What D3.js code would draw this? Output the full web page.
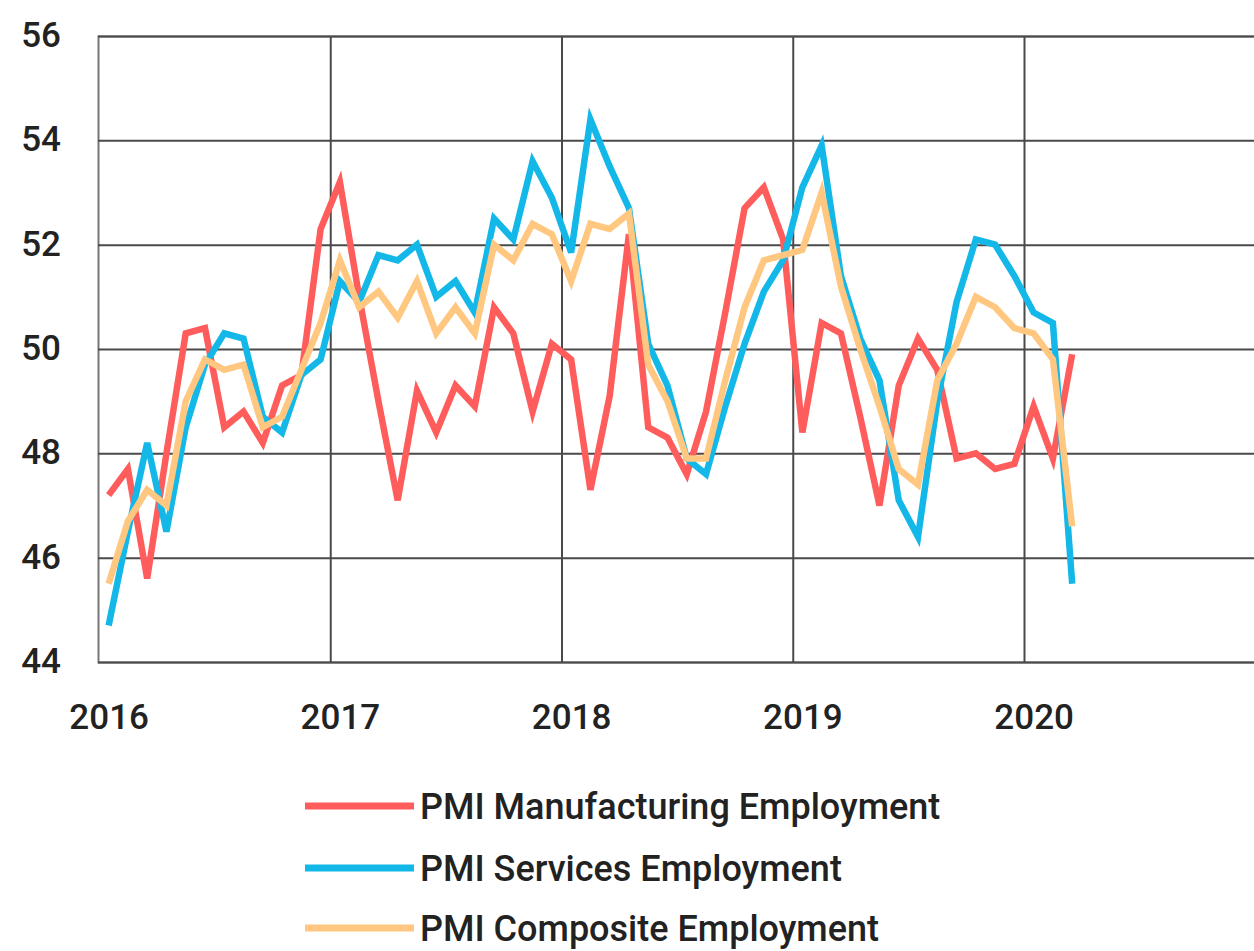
<!DOCTYPE html>
<html><head><meta charset="utf-8">
<script src="https://cdn.jsdelivr.net/npm/d3@7"></script>
<style>html,body{margin:0;padding:0;background:#fff;} svg{display:block;}</style>
</head><body><svg id="chart" width="1254" height="951"></svg>
<script>
// ---- data ----
const startYear = 2016;
const yearLabels = [2016, 2017, 2018, 2019, 2020];
const yearGrid = [2017, 2018, 2019, 2020];
const yTicks = [44, 46, 48, 50, 52, 54, 56];
const seriesNames = ["PMI Manufacturing Employment", "PMI Services Employment", "PMI Composite Employment"];
const manufacturing = [
  47.2, 47.7, 45.6, 48.0, 50.3, 50.4, 48.5, 48.8, 48.2, 49.3, 49.5, 52.3,
  53.2, 51.0, 49.0, 47.1, 49.2, 48.4, 49.3, 48.9, 50.8, 50.3, 48.8, 50.1,
  49.8, 47.3, 49.1, 52.2, 48.5, 48.3, 47.6, 48.8, 50.7, 52.7, 53.1, 52.1,
  48.4, 50.5, 50.3, 48.7, 47.0, 49.3, 50.2, 49.6, 47.9, 48.0, 47.7, 47.8,
  48.9, 47.9, 49.9
];
const services = [
  44.7, 46.5, 48.2, 46.5, 48.5, 49.7, 50.3, 50.2, 48.7, 48.4, 49.5, 49.8,
  51.3, 50.9, 51.8, 51.7, 52.0, 51.0, 51.3, 50.7, 52.5, 52.1, 53.6, 52.9,
  51.85, 54.4, 53.5, 52.7, 50.1, 49.3, 47.9, 47.6, 48.9, 50.1, 51.1, 51.7,
  53.1, 53.9, 51.4, 50.2, 49.4, 47.1, 46.4, 49.0, 50.9, 52.1, 52.0, 51.4,
  50.7, 50.5, 45.5
];
const composite = [
  45.5, 46.7, 47.3, 47.0, 49.0, 49.8, 49.6, 49.7, 48.5, 48.7, 49.6, 50.5,
  51.7, 50.8, 51.1, 50.6, 51.3, 50.3, 50.8, 50.3, 52.0, 51.7, 52.4, 52.2,
  51.3, 52.4, 52.3, 52.6, 49.7, 49.0, 47.9, 47.9, 49.4, 50.8, 51.7, 51.8,
  51.9, 53.0, 51.2, 50.0, 48.9, 47.7, 47.4, 49.4, 50.1, 51.0, 50.8, 50.4,
  50.3, 49.8, 46.6
];
const colors = ["#FF5C5C", "#14B8E8", "#FFC77F"];

// ---- layout ----
const svg = d3.select("#chart");
const mLeft = 98, mRight = 1254, mTop = 36, mBottom = 662;
const x = d3.scaleLinear().domain([2016, 2021]).range([99, 1255.25]);
const y = d3.scaleLinear().domain([44, 56]).range([mBottom, mTop]);
const font = "Roboto, 'Open Sans', sans-serif";
const gridColor = "#4a4a4a";

// horizontal grid + y labels
const yAxis = svg.append("g").attr("transform", `translate(${mLeft},0)`)
  .call(d3.axisLeft(y).tickValues(yTicks).tickSize(-(mRight - mLeft)).tickPadding(37).tickFormat(d3.format("d")));
yAxis.select(".domain").attr("stroke", "#777").attr("stroke-width", 2);
yAxis.selectAll(".tick line").attr("stroke", gridColor).attr("stroke-width", 2);
yAxis.selectAll(".tick text").attr("font-family", font).attr("font-size", 35).attr("font-weight", 500).attr("fill", "#222").attr("dy", "0.3em");

// vertical grid
const xGrid = svg.append("g").attr("transform", `translate(0,${mBottom})`)
  .call(d3.axisBottom(x).tickValues(yearGrid).tickSize(-(mBottom - mTop)).tickFormat(""));
xGrid.select(".domain").remove();
xGrid.selectAll(".tick line").attr("stroke", gridColor).attr("stroke-width", 2);

// x labels at January of each year
const xLab = svg.append("g").attr("transform", `translate(0,${mBottom})`)
  .call(d3.axisBottom(x).tickValues(yearLabels.map(v => v + 0.5 / 12)).tickSize(0).tickPadding(42).tickFormat(d => String(Math.floor(d))));
xLab.select(".domain").remove();
xLab.selectAll(".tick text").attr("font-family", font).attr("font-size", 35).attr("font-weight", 500).attr("fill", "#222");

// lines
const seriesData = [manufacturing, services, composite];
const line = d3.line()
  .x((d, i) => x(startYear + (i + 0.5) / 12))
  .y(d => y(d));
seriesData.forEach((s, k) => {
  svg.append("path").datum(s)
    .attr("fill", "none").attr("stroke", colors[k]).attr("stroke-width", 6.5)
    .attr("stroke-linejoin", "miter").attr("d", line);
});

// legend
const legY = [806, 868, 928];
const leg = svg.append("g");
seriesNames.forEach((name, k) => {
  leg.append("line").attr("x1", 305).attr("x2", 414).attr("y1", legY[k]).attr("y2", legY[k])
    .attr("stroke", colors[k]).attr("stroke-width", 7);
  leg.append("text").attr("x", 420).attr("y", legY[k]).attr("dy", "0.35em")
    .attr("font-family", font).attr("font-size", 36).attr("font-weight", 500).attr("fill", "#222").text(name);
});
</script>
</body></html>
